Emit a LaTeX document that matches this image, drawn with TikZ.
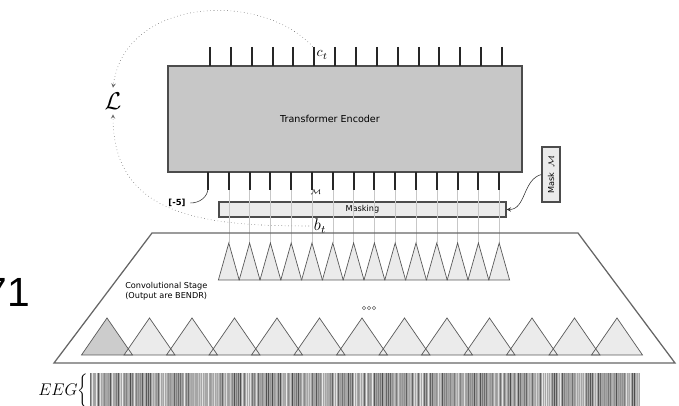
\documentclass[tikz,border=0pt]{standalone}
\usepackage{fontspec}
\newfontfamily\labelfont{DejaVu Sans}
\newfontfamily\slidefont{Liberation Sans}
\usetikzlibrary{positioning}

\begin{document}
\begin{tikzpicture}[>=stealth, x=0.025cm, y=-0.025cm]
  % definition of the styles (one unit is one pixel of the slide)
  \tikzstyle encbox=[draw=black!70, fill=black!22, line width=0.9pt]
  \tikzstyle maskbox=[draw=black!70, fill=black!8, line width=0.9pt, inner sep=0pt]
  \tikzstyle token=[black!85, line width=1.5pt]
  \tikzstyle feed=[black!22, very thin]
  \tikzstyle kernel=[draw=black!65, line width=0.5pt]
  \tikzstyle tiny=[font=\labelfont\fontsize{5.8}{6.8}\selectfont]
  \tikzstyle lossline=[->, dotted, black!60, thin]

  % the slide area, everything outside is cut away
  \useasboundingbox (0,0) rectangle (679,406);
  \clip (0,0) rectangle (679,406);

  % slide number, cut at the left border
  \node[anchor=base east, inner sep=0pt, font=\slidefont\fontsize{29}{30}\selectfont] (slideno) at (30,307) {71};

  % The encoder and the masking blocks
  \node[encbox, minimum width=8.85cm, minimum height=2.65cm] (enc) at (345,119) {};
  \node[font=\labelfont\fontsize{6.8}{7.8}\selectfont] (enctext) at (330,119) {Transformer Encoder};
  \node[maskbox, minimum width=7.175cm, minimum height=0.375cm, tiny] (masking) at (362.5,209.5) {Masking};
  \node[maskbox, minimum width=0.45cm, minimum height=1.375cm] (maskM) at (551,174.5) {};
  \node[tiny, rotate=90] (maskMtext) at (maskM.center) {Mask\ \ $\mathcal{M}$};
  \draw[->, black!80, thin] (maskM.west) to[out=195, in=0] (masking.east);

  % output tokens on top of the encoder
  \foreach \i in {0,...,14}
    \draw[token] ({210+20.857*\i},47) -- ({210+20.857*\i},66);
  \node[anchor=west, inner sep=1pt] (ct) at (315,55) {$c_t$};

  % input tokens below the encoder, fed from the first conv stage
  \foreach \i in {0,...,14}
    \draw[token] ({208+20.8*\i},172) -- ({208+20.8*\i},190);
  \foreach \i in {1,...,14}
    \draw[feed] ({208+20.8*\i},190) -- ({208+20.8*\i},243);
  \node[tiny, font=\fontsize{5}{6}\selectfont] (mtok) at (316,192) {$\mathcal{M}$};
  \node[tiny, font=\labelfont\bfseries\fontsize{6}{7}\selectfont] (minus5) at (177,203) {[-5]};
  \draw[black!80, thin] (208,188) to[out=-90, in=0] (minus5.east);
  \node[font=\fontsize{12}{13}\selectfont] (bt) at (320,226) {$b_t$};

  % the loss with its two dotted inputs
  \node[font=\fontsize{18}{19}\selectfont] (loss) at (113,101) {$\mathcal{L}$};
  \draw[lossline] (ct.north west) .. controls (265,-10) and (125,-4) .. (loss.north);
  \draw[lossline] (bt.west) .. controls (200,226) and (113,215) .. (loss.south);

  % the convolutional stage
  \draw[black!60, line width=0.9pt] (152,233) -- (578,233) -- (675,363) -- (54,363) -- cycle;
  \foreach \i in {1,...,14}
    \filldraw[kernel, fill=black!8] ({208+20.8*\i},243) -- ({197.6+20.8*\i},280) -- ({218.4+20.8*\i},280) -- cycle;
  \node[tiny, anchor=north west, align=left, inner sep=0pt] (convtext) at (125,282) {Convolutional Stage\\(Output are BENDR)};
  \foreach \x in {364,369,374}
    \draw[black!60, thin] (\x,308) circle (1.8);

  % Row of wide kernels on the raw signal
  \fill[black!20] (81.5,355) -- (107,318) -- (132.5,355) -- cycle;
  \foreach \i in {1,...,12}
    \fill[black!8] ({81.5+42.5*\i},355) -- ({107+42.5*\i},318) -- ({132.5+42.5*\i},355) -- cycle;
  \foreach \i in {0,...,12}
    \draw[kernel] ({81.5+42.5*\i},355) -- ({107+42.5*\i},318) -- ({132.5+42.5*\i},355) -- cycle;

  % the raw EEG signal
  \node[anchor=east, inner sep=1pt, font=\fontsize{12.5}{14}\selectfont] (eeg) at (90,391) {$EEG\bigg\{$};
  \fill[black!35] (90,373) rectangle (640,406);
  \pgfmathsetseed{71}
  \foreach \i in {0,...,274} {
    \pgfmathsetmacro\shade{int(random(8,70))}
    \draw[black!\shade, line width=0.55pt] ({90.5+2*\i},373) -- ({90.5+2*\i},406);
  }
\end{tikzpicture}
\end{document}
